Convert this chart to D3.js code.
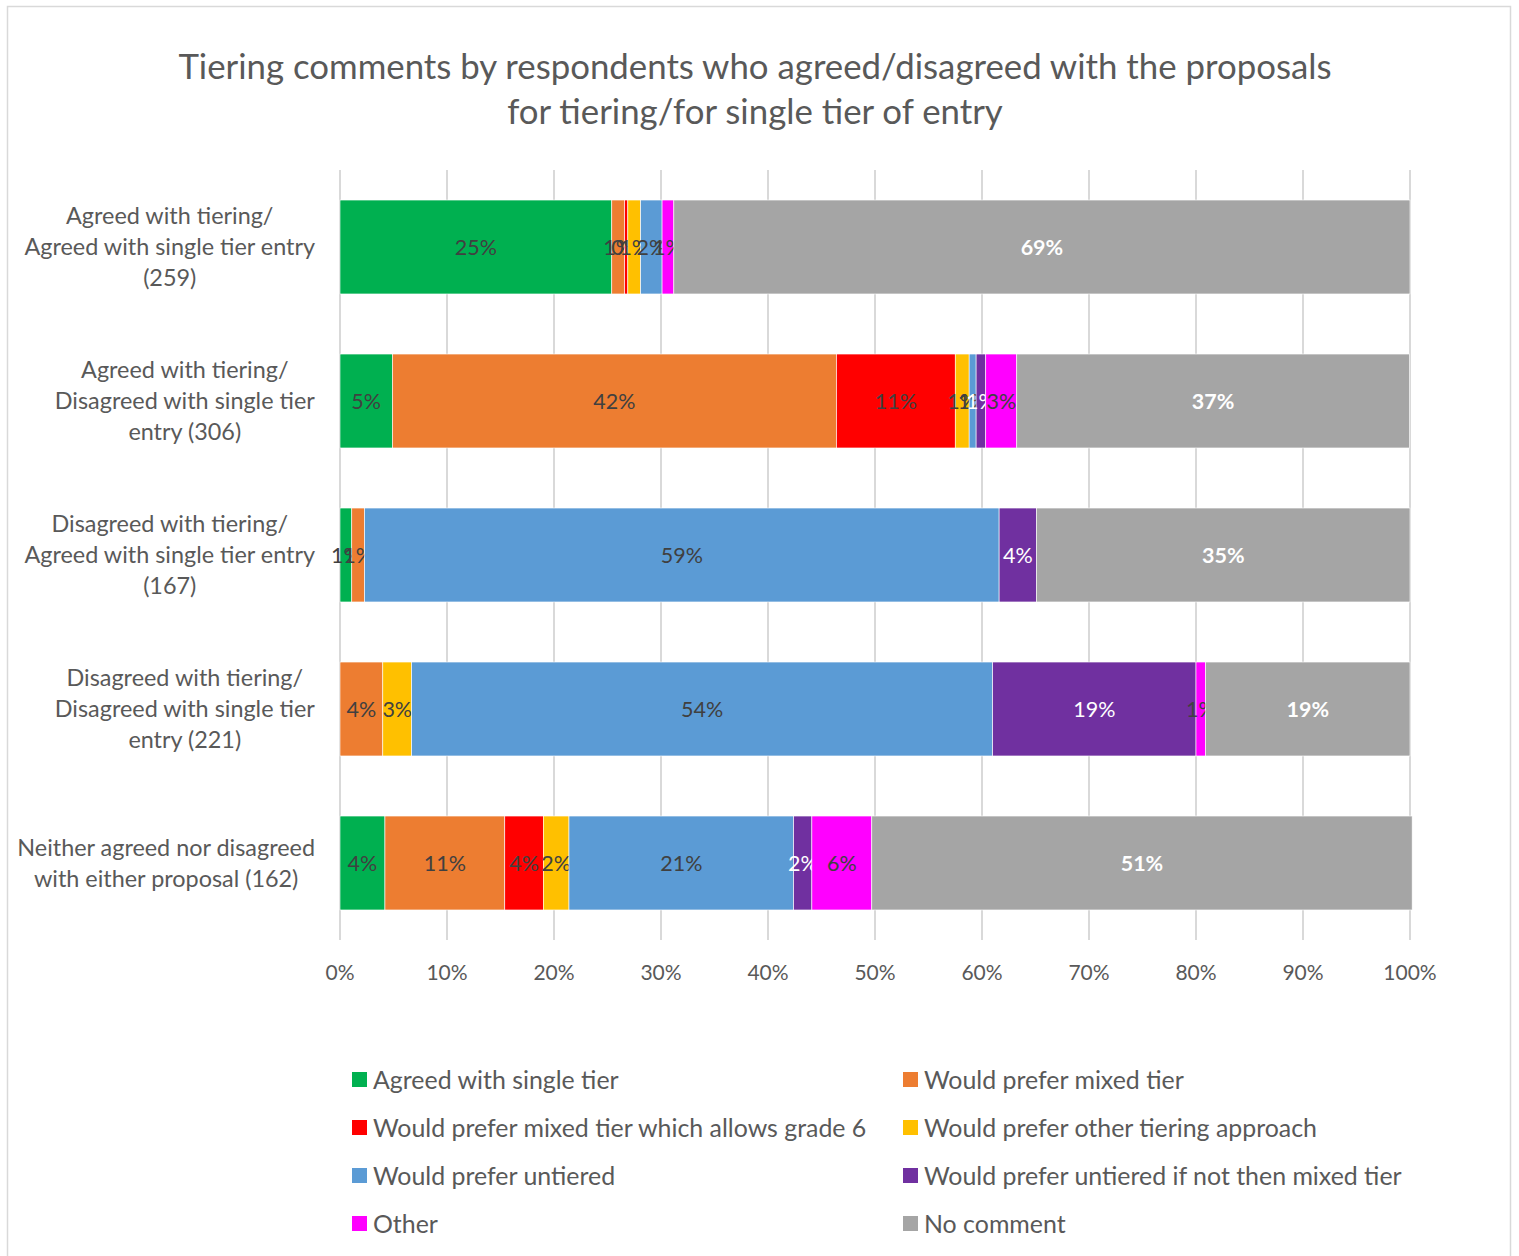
<!DOCTYPE html>
<html>
<head>
<meta charset="utf-8">
<script src="https://cdn.jsdelivr.net/npm/d3@7"></script>
<style>
  body { margin: 0; background: #fff; }
  text { font-family: Lato, "Open Sans", sans-serif; }
</style>
</head>
<body>
<svg id="chart" width="1519" height="1256"></svg>
<script>
// categories (y axis), top to bottom
var categories = [
  ["Agreed with tiering/", "Agreed with single tier entry", "(259)"],
  ["Agreed with tiering/", "Disagreed with single tier", "entry (306)"],
  ["Disagreed with tiering/", "Agreed with single tier entry", "(167)"],
  ["Disagreed with tiering/", "Disagreed with single tier", "entry (221)"],
  ["Neither agreed nor disagreed", "with either proposal (162)"]
];

var seriesNames = ["Agreed with single tier", "Would prefer mixed tier",
  "Would prefer mixed tier which allows grade 6", "Would prefer other tiering approach",
  "Would prefer untiered", "Would prefer untiered if not then mixed tier",
  "Other", "No comment"];
var colors = ["#00b050", "#ed7d31", "#ff0000", "#ffc000", "#5b9bd5", "#7030a0", "#ff00ff", "#a5a5a5"];

// percent values per series, one per category
var agreedSingle   = [25.4, 4.9, 1.1, 0, 4.2];
var mixedTier      = [1.2, 41.5, 1.2, 4.0, 11.2];
var mixedGrade6    = [0.3, 11.1, 0, 0, 3.6];
var otherApproach  = [1.2, 1.3, 0, 2.7, 2.4];
var untiered       = [2.0, 0.65, 59.3, 54.3, 21.0];
var untieredMixed  = [0, 0.9, 3.5, 19.0, 1.7];
var other          = [1.1, 2.9, 0, 0.9, 5.6];
var noComment      = [68.8, 36.7, 34.9, 19.1, 50.5];

var xTicks = [0, 10, 20, 30, 40, 50, 60, 70, 80, 90, 100];

var series = [agreedSingle, mixedTier, mixedGrade6, otherApproach, untiered, untieredMixed, other, noComment];
var whiteLabel = [false, false, false, false, false, true, false, true];

var svg = d3.select("#chart");

svg.append("rect").attr("x", 7.5).attr("y", 6.5).attr("width", 1503).attr("height", 1260)
  .attr("fill", "#fff").attr("stroke", "#d9d9d9").attr("stroke-width", 1.5);

// title
var title = svg.append("text").attr("text-anchor", "middle").attr("fill", "#595959")
  .style("font-size", "34.8px");
title.append("tspan").attr("x", 755).attr("y", 79).text("Tiering comments by respondents who agreed/disagreed with the proposals");
title.append("tspan").attr("x", 755).attr("y", 124).text("for tiering/for single tier of entry");

var x = d3.scaleLinear().domain([0, 100]).range([340, 1410]);
var y = d3.scaleBand().domain(d3.range(categories.length)).range([170, 940]).paddingInner(0.39).paddingOuter(0.195);

// gridlines
svg.append("g").selectAll("line").data(xTicks).enter().append("line")
  .attr("x1", function(d) { return x(d); }).attr("x2", function(d) { return x(d); })
  .attr("y1", 170).attr("y2", 940)
  .attr("stroke", "#d9d9d9").attr("stroke-width", 2);

// x tick labels
svg.append("g").selectAll("text").data(xTicks).enter().append("text")
  .attr("x", function(d) { return x(d); }).attr("y", 980)
  .attr("text-anchor", "middle").attr("fill", "#595959").style("font-size", "21px")
  .text(function(d) { return d + "%"; });

// stacked bars
var stackData = categories.map(function(c, i) {
  var row = {};
  series.forEach(function(s, j) { row[j] = s[i]; });
  return row;
});
var stacked = d3.stack().keys(d3.range(series.length))(stackData);

var layers = svg.append("g").selectAll("g").data(stacked).enter().append("g")
  .attr("fill", function(d, j) { return colors[j]; });

layers.selectAll("rect").data(function(d) { return d; }).enter().append("rect")
  .attr("x", function(d) { return x(d[0]); })
  .attr("y", function(d, i) { return y(i); })
  .attr("width", function(d) { return x(d[1]) - x(d[0]); })
  .attr("height", y.bandwidth())
  .attr("stroke", "#fff").attr("stroke-width", 0.6);

// data labels
layers.each(function(layer, j) {
  d3.select(this).selectAll("text").data(layer.filter(function(d) { return d[1] - d[0] > 0; }))
    .enter().append("text")
    .attr("x", function(d) { return (x(d[0]) + x(d[1])) / 2; })
    .attr("y", function(d) { return y(stackData.indexOf(d.data)) + y.bandwidth() / 2 + 7.5; })
    .attr("text-anchor", "middle")
    .attr("fill", whiteLabel[j] ? "#fff" : "#404040")
    .style("font-size", "21.5px")
    .style("font-weight", j === 7 ? "bold" : "normal")
    .text(function(d) { return Math.round(d[1] - d[0]) + "%"; });
});

// category labels, centred block whose right edge sits at 315
var catG = svg.append("g");
categories.forEach(function(lines, i) {
  var t = catG.append("text").attr("text-anchor", "middle").attr("fill", "#595959").style("font-size", "23.4px");
  var cy = y(i) + y.bandwidth() / 2;
  var top = cy - (lines.length - 1) * 31 / 2 + 8;
  lines.forEach(function(l, k) {
    t.append("tspan").attr("x", 0).attr("y", top + k * 31).text(l);
  });
  var w = t.node().getBBox().width;
  t.selectAll("tspan").attr("x", 315 - w / 2);
});

// legend
var legend = svg.append("g").selectAll("g").data(seriesNames).enter().append("g")
  .attr("transform", function(d, i) {
    return "translate(" + (i % 2 === 0 ? 352 : 903) + "," + (1080 + Math.floor(i / 2) * 48) + ")";
  });
legend.append("rect").attr("x", 0).attr("y", -8).attr("width", 15).attr("height", 15)
  .attr("fill", function(d, i) { return colors[i]; });
legend.append("text").attr("x", 21).attr("y", 8.5).attr("fill", "#595959").style("font-size", "24.9px")
  .text(function(d) { return d; });
</script>
</body>
</html>
